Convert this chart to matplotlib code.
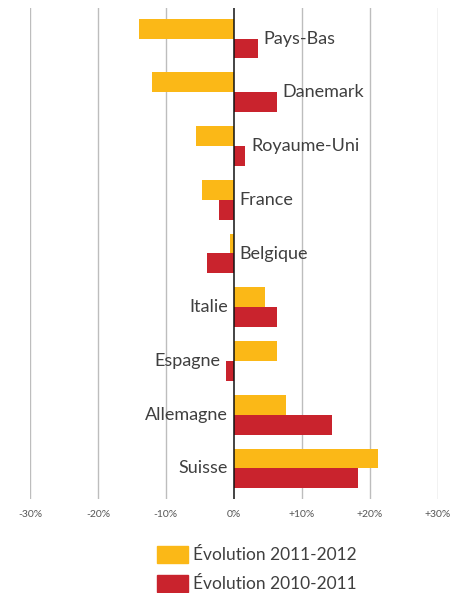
import numpy as np
import matplotlib
matplotlib.use("Agg")
import matplotlib.pyplot as plt
from matplotlib.patches import Patch

# data (percent change)
countries = ["Pays-Bas", "Danemark", "Royaume-Uni", "France", "Belgique",
             "Italie", "Espagne", "Allemagne", "Suisse"]
evol_2011_2012 = [-14.0, -12.1, -5.6, -4.75, -0.5, 4.65, 6.4, 7.7, 21.3]
evol_2010_2011 = [3.6, 6.4, 1.7, -2.25, -3.9, 6.3, -1.2, 14.5, 18.3]
xticks = [-30, -20, -10, 0, 10, 20, 30]
xtick_labels = ["-30%", "-20%", "-10%", "0%", "+10%", "+20%", "+30%"]
legend_labels = ["Évolution 2011-2012", "Évolution 2010-2011"]

ORANGE = "#FBB817"
RED = "#C9232D"
TEXT = "#3f3f3f"

plt.rcParams["font.family"] = ["Lato", "DejaVu Sans"]

fig = plt.figure(figsize=(4.55, 5.93), dpi=100)
ax = fig.add_axes([30 / 455, 1 - 499 / 593, (437.3 - 29.7) / 455, (499 - 8) / 593])

y = np.arange(len(countries))
h = 0.37
ax.barh(y - h / 2, evol_2011_2012, height=h, color=ORANGE, zorder=3)
ax.barh(y + h / 2, evol_2010_2011, height=h, color=RED, zorder=3)

ax.set_xlim(-30, 30)
ax.set_ylim(len(countries) - 0.43, -0.57)

# labels: right of bars when the top bar is negative, else left
for i, name in enumerate(countries):
    a, b = evol_2011_2012[i], evol_2010_2011[i]
    if a < 0:
        ax.annotate(name, (max(0, b), i), xytext=(4, 0), textcoords="offset points",
                    ha="left", va="center", fontsize=13, color=TEXT, zorder=4)
    else:
        ax.annotate(name, (min(0, b), i), xytext=(-4, 0), textcoords="offset points",
                    ha="right", va="center", fontsize=13, color=TEXT, zorder=4)

for x in xticks:
    if x == 0:
        ax.axvline(0, color="#111111", lw=1.1, zorder=4)
    else:
        ax.axvline(x, color="#bdbdbd", lw=1.0, zorder=1)

ax.set_xticks(xticks)
ax.set_xticklabels(xtick_labels, fontsize=7.5, color="#555555")
ax.tick_params(axis="x", length=0, pad=8)
ax.set_yticks([])
for s in ax.spines.values():
    s.set_visible(False)

handles = [Patch(color=ORANGE), Patch(color=RED)]
fig.legend(handles, legend_labels, loc="upper left", bbox_to_anchor=(157 / 455, 1 - 546 / 593),
           frameon=False, fontsize=12.5, labelcolor=TEXT, handlelength=1.8, handleheight=1.15,
           handletextpad=0.3, labelspacing=0.65, borderpad=0, borderaxespad=0)

fig.savefig("out.png", dpi=100)
